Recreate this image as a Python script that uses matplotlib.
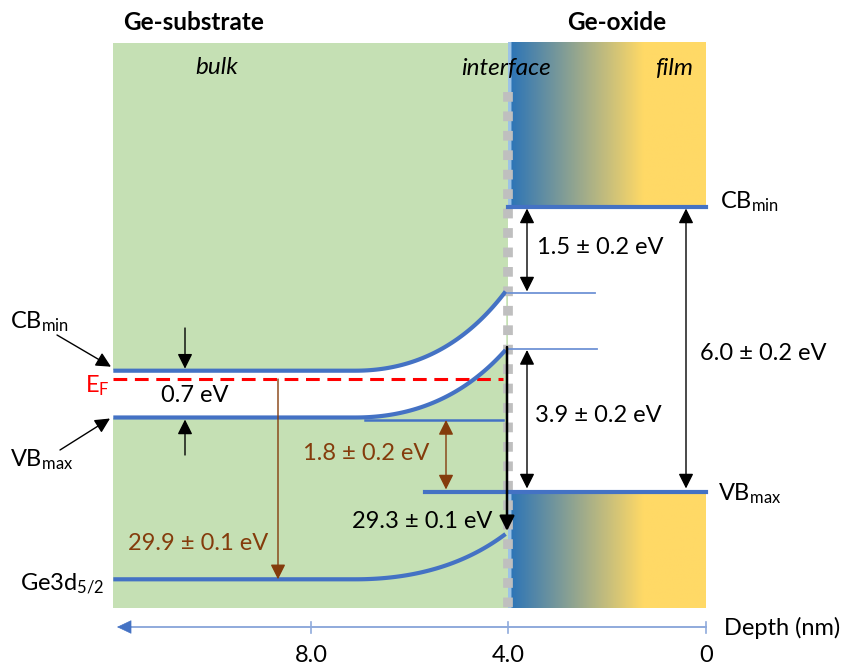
import numpy as np
import matplotlib
matplotlib.use('Agg')
import matplotlib.pyplot as plt
from matplotlib.patches import Rectangle
from matplotlib.colors import LinearSegmentedColormap

plt.rcParams['font.family'] = ['Lato', 'DejaVu Sans']
plt.rcParams['mathtext.fontset'] = 'custom'
plt.rcParams['mathtext.rm'] = 'Lato'
plt.rcParams['mathtext.it'] = 'Lato:italic'

# depth axis (nm)
depth_ticks = [8.0, 4.0, 0.0]
depth_tick_labels = ['8.0', '4.0', '0']
bulk_edge = 12.0       # left end of the substrate
interface = 4.0        # substrate / oxide interface
film_edge = 0.0        # oxide surface
bend_start = 7.1       # bands start bending here
short_end = 2.25       # end of thin interface reference lines

# schematic energy levels (drawing units, top = 0, not to scale)
cb_bulk = 370.7
vb_bulk = 417.5
ef_level = 379.0
ge3d_bulk = 579.3
cb_intf = 291.5
vb_intf = 350.0
ge3d_intf = 534.0
vb_ref = 420.0
cb_oxide = 206.5
vb_oxide = 491.5
top_level = 43.0
bottom_level = 608.0

# energy differences
gap_bulk = '0.7 eV'
cb_offset = '1.5 ± 0.2 eV'
vb_offset = '3.9 ± 0.2 eV'
gap_oxide = '6.0 ± 0.2 eV'
band_bend = '1.8 ± 0.2 eV'
core_bulk = '29.9 ± 0.1 eV'
core_intf = '29.3 ± 0.1 eV'

GREEN = '#C5E0B4'
BLUE = '#4472C4'
BROWN = '#843C0C'
FS = 17


# pixel -> depth helper only for the figure frame
def px(p):
    return 4.0 + (508.5 - p) / 49.4


fig = plt.figure(figsize=(8.45, 6.65), dpi=100)
ax = fig.add_axes([0, 0, 1, 1])
ax.set_xlim(px(0), px(845))
ax.set_ylim(665, 0)
ax.axis('off')


def bent(y0, y1, x_end=interface + 0.06, n=60):
    # flat band in the bulk, then a quadratic bend up to the interface
    t = np.linspace(0, 1, n)
    cx = bend_start - 0.6 * (bend_start - x_end)
    bx = (1 - t) ** 2 * bend_start + 2 * (1 - t) * t * cx + t ** 2 * x_end
    by = (1 - t) ** 2 * y0 + 2 * (1 - t) * t * y0 + t ** 2 * y1
    return np.r_[bulk_edge, bx], np.r_[y0, by]


# background regions
ax.add_patch(Rectangle((interface, top_level), bulk_edge - interface,
                       bottom_level - top_level, fc=GREEN, ec='none', zorder=0))
cmap = LinearSegmentedColormap.from_list('ox', ['#9DC3E6', '#2E75B6', '#FFD966'])
xx = np.linspace(interface, film_edge, 400)
ramp = np.where(xx > 3.93, 0.0, 0.5 + 0.5 * np.clip((3.93 - xx) / (3.93 - 1.25), 0, 1))[None, :]
for y_a, y_b in [(top_level, cb_oxide), (vb_oxide, bottom_level)]:
    ax.imshow(ramp, cmap=cmap, vmin=0, vmax=1, extent=[interface, film_edge, y_b, y_a],
              aspect='auto', zorder=1, interpolation='bilinear')

cbx, cby = bent(cb_bulk, cb_intf)
vbx, vby = bent(vb_bulk, vb_intf)
ax.fill(np.r_[cbx, vbx[::-1]], np.r_[cby, vby[::-1]], color='white', zorder=2)

# interface dotted line
ax.plot([interface, interface], [92, bottom_level], color='#BFBFBF', lw=7,
        linestyle=(0, (1.0, 1.0)), solid_capstyle='butt', dash_capstyle='butt', zorder=3)

# bands
ax.plot(cbx, cby, color=BLUE, lw=3, zorder=5, solid_capstyle='butt')
ax.plot(vbx, vby, color=BLUE, lw=3, zorder=5, solid_capstyle='butt')
gx, gy = bent(ge3d_bulk, ge3d_intf)
ax.plot(gx, gy, color=BLUE, lw=3, zorder=5, solid_capstyle='butt')
ax.plot([px(365), px(503)], [vb_ref, vb_ref], color=BLUE, lw=1.8, zorder=5)
ax.plot([interface, short_end], [cb_intf + 1, cb_intf + 1], color='#6F93D6', lw=1.3, zorder=5)
ax.plot([interface, short_end - 0.05], [vb_intf - 1, vb_intf - 1], color='#6F93D6', lw=1.3, zorder=5)
ax.plot([interface, film_edge], [cb_oxide, cb_oxide], color=BLUE, lw=3, zorder=5)
ax.plot([px(425), film_edge], [vb_oxide, vb_oxide], color=BLUE, lw=3, zorder=5)

# Fermi level
ax.plot([bulk_edge, px(503)], [ef_level, ef_level], color='red', lw=2.2,
        linestyle=(0, (4.5, 2.5)), zorder=4)


def arrow(x, y_from, y_to, color='black', lw=1.0, both=False, head=0.9):
    style = ('<|-|>' if both else '-|>') + ',head_length=%.2f,head_width=0.45' % head
    ax.annotate('', xy=(x, y_to), xytext=(x, y_from),
                arrowprops=dict(arrowstyle=style, mutation_scale=10, lw=lw,
                                color=color, shrinkA=0, shrinkB=0), zorder=6)


arrow(px(185), 328, cb_bulk - 2)
arrow(px(185), 455, vb_bulk + 2)
arrow(px(527), cb_oxide + 2, cb_intf, both=True)
arrow(px(527), vb_intf, vb_oxide - 3, both=True)
arrow(px(686), cb_oxide + 2, vb_oxide - 3, both=True)
arrow(px(446), vb_ref, vb_oxide - 2, color=BROWN, both=True)
arrow(px(278), ef_level, ge3d_bulk, color=BROWN)
arrow(px(507), 347, ge3d_intf - 3, lw=1.8)

# label pointers
ax.annotate('', xy=(px(111), cb_bulk - 4), xytext=(px(57), 335),
            arrowprops=dict(arrowstyle='-|>,head_length=0.9,head_width=0.45',
                            mutation_scale=10, lw=1, color='black', shrinkA=0, shrinkB=0))
ax.annotate('', xy=(px(110), vb_bulk + 1), xytext=(px(60), 450),
            arrowprops=dict(arrowstyle='-|>,head_length=0.9,head_width=0.45',
                            mutation_scale=10, lw=1, color='black', shrinkA=0, shrinkB=0))

# texts
ax.text(px(194), 22, 'Ge-substrate', fontsize=17.5, fontweight='bold', ha='center', va='center')
ax.text(px(617), 22, 'Ge-oxide', fontsize=17.5, fontweight='bold', ha='center', va='center')
ax.text(px(217), 68, 'bulk', fontsize=FS + 0.5, fontstyle='italic', ha='center', va='center', zorder=7)
ax.text(px(506), 68, 'interface', fontsize=FS + 0.5, fontstyle='italic', ha='center', va='center', zorder=7)
ax.text(px(674), 68, 'film', fontsize=FS + 0.5, fontstyle='italic', ha='center', va='center', zorder=7)

ax.text(px(10), 328, r'CB$_{\mathrm{min}}$', fontsize=FS, ha='left', va='baseline')
ax.text(px(10), 466, r'VB$_{\mathrm{max}}$', fontsize=FS, ha='left', va='baseline')
ax.text(px(20), 590, r'Ge3d$_{\mathrm{5/2}}$', fontsize=FS, ha='left', va='baseline')
ax.text(px(85), 392, r'E$_{\mathrm{F}}$', fontsize=FS, color='red', ha='left', va='baseline')
ax.text(px(720), 208, r'CB$_{\mathrm{min}}$', fontsize=FS, ha='left', va='baseline')
ax.text(px(718), 500, r'VB$_{\mathrm{max}}$', fontsize=FS, ha='left', va='baseline')

ax.text(px(195), 395, gap_bulk, fontsize=FS, ha='center', va='center', zorder=5,
        bbox=dict(fc='white', ec='none', pad=2))
ax.text(px(537), 248, cb_offset, fontsize=FS, ha='left', va='center', zorder=7)
ax.text(px(535), 416, vb_offset, fontsize=FS, ha='left', va='center', zorder=7)
ax.text(px(700), 354, gap_oxide, fontsize=FS, ha='left', va='center', zorder=7)
ax.text(px(303), 453, band_bend, fontsize=FS, color=BROWN, ha='left', va='center', zorder=7)
ax.text(px(492), 521, core_intf, fontsize=FS, ha='right', va='center', zorder=7)
ax.text(px(128), 543, core_bulk, fontsize=FS, color=BROWN, ha='left', va='center', zorder=7)

# depth axis
axis_row = 627
ax.plot([px(128), film_edge], [axis_row, axis_row], color='#8FAADC', lw=1.4)
ax.annotate('', xy=(px(117), axis_row), xytext=(px(131), axis_row),
            arrowprops=dict(arrowstyle='-|>,head_length=0.95,head_width=0.45',
                            mutation_scale=10, lw=0.5, color=BLUE, shrinkA=0, shrinkB=0))
for d, lab in zip(depth_ticks, depth_tick_labels):
    ax.plot([d, d], [axis_row - 5.5, axis_row + 5.5], color='#8FAADC', lw=1.2)
    ax.text(d, 655, lab, fontsize=FS, ha='center', va='center')
ax.text(px(724), 628, 'Depth (nm)', fontsize=FS, ha='left', va='center')

fig.savefig('out.png', dpi=100)
